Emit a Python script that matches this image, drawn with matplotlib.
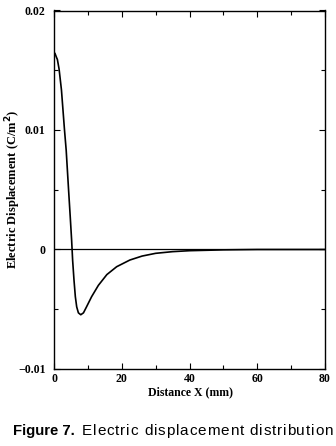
import matplotlib
matplotlib.use("Agg")
from matplotlib import pyplot as plt
from matplotlib.ticker import MultipleLocator

# values
distance_mm = [0, 0.3, 0.7, 1.0, 1.5, 2.2, 3.1, 3.6, 4.3, 4.8, 5.2, 5.5, 5.9,
               6.3, 6.7, 7.2, 7.9, 8.7, 9.6, 11.1, 13.1, 15.6, 18.5, 22.4,
               26, 30, 35, 40, 50, 60, 70, 80]
displacement = [0.0165, 0.0164, 0.0161, 0.0159, 0.0151, 0.01335, 0.0100,
                0.0083, 0.0050, 0.0027, 0.0008, -0.0009, -0.00255, -0.00395,
                -0.0048, -0.0053, -0.00546, -0.0053, -0.0048, -0.00395,
                -0.0030, -0.0021, -0.00144, -0.00088, -0.00055, -0.00032,
                -0.00018, -0.0001, -0.00003, 0.0, 0.0, 0.0]

y_ticks = [-0.01, 0, 0.01, 0.02]
y_tick_labels = ["\u22120.01", "0", "0.01", "0.02"]

caption_label = "Figure 7."
caption_text = "Electric displacement distribution"

serif = "Liberation Serif"
W, H = 336, 446

fig = plt.figure(figsize=(W / 100, H / 100), dpi=100)
ax = fig.add_axes([54 / W, 1 - 369 / H, 271 / W, 358.5 / H])

ax.plot(distance_mm, displacement, color="black", lw=1.2)
ax.axhline(0, color="black", lw=0.9)

ax.set_xlim(0, 80)
ax.set_ylim(-0.01, 0.02)
ax.xaxis.set_major_locator(MultipleLocator(20))
ax.xaxis.set_minor_locator(MultipleLocator(10))
ax.set_yticks(y_ticks)
ax.set_yticklabels(y_tick_labels)
ax.yaxis.set_minor_locator(MultipleLocator(0.005))
ax.tick_params(which="both", direction="in", top=True, right=True, width=0.8)
ax.tick_params(which="major", length=4)
ax.tick_params(which="minor", length=3)
ax.tick_params(axis="y", pad=6)
ax.tick_params(axis="x", pad=3)
for lab in ax.get_xticklabels() + ax.get_yticklabels():
    lab.set_fontfamily(serif)
    lab.set_fontweight("bold")
    lab.set_fontsize(8.5)
for s in ax.spines.values():
    s.set_linewidth(1.0)

ax.set_xlabel("Distance X (mm)", fontfamily=serif, fontweight="bold",
              fontsize=8.5)
ax.xaxis.set_label_coords((191 - 54) / 271, -(392 - 369) / 358.5)
ax.xaxis.label.set_va("center")
ax.set_ylabel("Electric Displacement (C/m$^\\mathbf{2}$)", fontfamily=serif,
              fontweight="bold", fontsize=9)
ax.yaxis.set_label_coords(-(54 - 13) / 271, 0.5)
ax.yaxis.label.set_va("center")

cap_y = 1 - 435 / H
fig.text(13 / W, cap_y, caption_label, ha="left", va="baseline",
         fontsize=10.7, family="Liberation Sans", fontweight="bold")

renderer = fig.canvas.get_renderer()
cap_size = 11


def text_width(s):
    t = fig.text(0, 0, s.replace(" ", "\u00a0"), fontsize=cap_size,
                 family="Liberation Sans")
    w = t.get_window_extent(renderer).width
    t.remove()
    return w


# the scan's caption is slightly letter-spaced to fill the column (82..333 px)
x0, x1 = 82, 333
full = text_width(caption_text)
gap = (x1 - x0 - full) / (len(caption_text) - 1)
for i, ch in enumerate(caption_text):
    if ch == " ":
        continue
    left = x0 + (text_width(caption_text[:i]) if i else 0) + i * gap
    fig.text(left / W, cap_y, ch, ha="left", va="baseline",
             fontsize=cap_size, family="Liberation Sans")

fig.savefig("out.png", dpi=100)
